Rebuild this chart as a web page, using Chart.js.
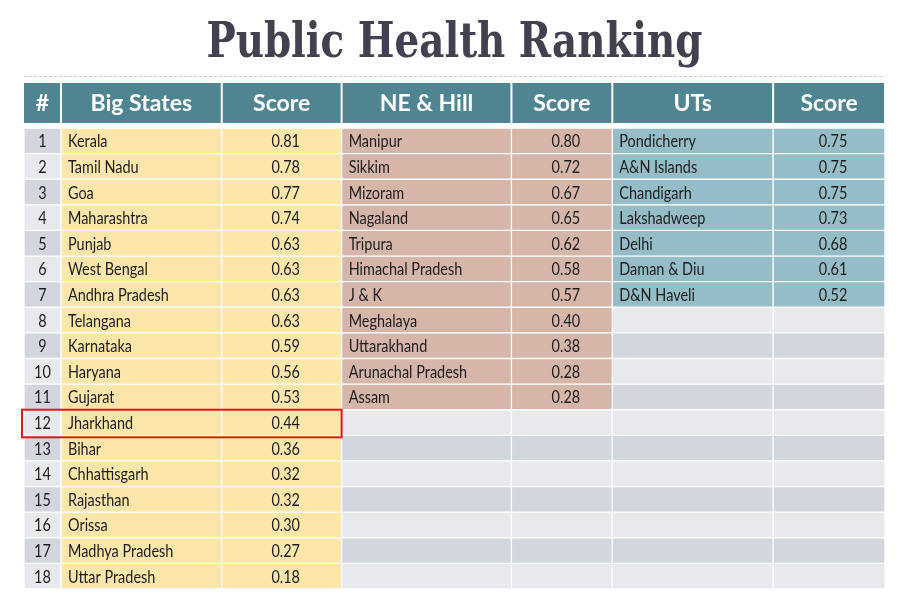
<!DOCTYPE html>
<html lang="en">
<head>
    <meta charset="UTF-8">
    <title>Public Health Ranking</title>
    <script src="https://cdn.jsdelivr.net/npm/chart.js"></script>
    <style>
        body {
            margin: 0;
            background: #ffffff;
        }
        #wrap {
            width: 900px;
            height: 600px;
        }
    </style>
</head>
<body>
<div id="wrap">
    <canvas id="rankChart" width="900" height="600"></canvas>
</div>
<script>
    // Datos de la tabla
    const titleText = 'Public Health Ranking';
    const headers = ['#', 'Big States', 'Score', 'NE & Hill', 'Score', 'UTs', 'Score'];
    const ranks = ['1', '2', '3', '4', '5', '6', '7', '8', '9', '10', '11', '12', '13', '14', '15', '16', '17', '18'];
    const bigStates = ['Kerala', 'Tamil Nadu', 'Goa', 'Maharashtra', 'Punjab', 'West Bengal', 'Andhra Pradesh',
        'Telangana', 'Karnataka', 'Haryana', 'Gujarat', 'Jharkhand', 'Bihar', 'Chhattisgarh', 'Rajasthan',
        'Orissa', 'Madhya Pradesh', 'Uttar Pradesh'];
    const bigScores = [0.81, 0.78, 0.77, 0.74, 0.63, 0.63, 0.63, 0.63, 0.59, 0.56, 0.53, 0.44, 0.36, 0.32, 0.32, 0.30, 0.27, 0.18];
    const neHill = ['Manipur', 'Sikkim', 'Mizoram', 'Nagaland', 'Tripura', 'Himachal Pradesh', 'J & K',
        'Meghalaya', 'Uttarakhand', 'Arunachal Pradesh', 'Assam'];
    const neScores = [0.80, 0.72, 0.67, 0.65, 0.62, 0.58, 0.57, 0.40, 0.38, 0.28, 0.28];
    const uts = ['Pondicherry', 'A&N Islands', 'Chandigarh', 'Lakshadweep', 'Delhi', 'Daman & Diu', 'D&N Haveli'];
    const utScores = [0.75, 0.75, 0.75, 0.73, 0.68, 0.61, 0.52];
    const highlighted = 'Jharkhand';

    // Layout (anchos de columna en px)
    const colWidths = [37, 161, 120, 170, 101, 161, 112];
    const colEdges = [0];
    colWidths.forEach(w => colEdges.push(colEdges[colEdges.length - 1] + w));

    const colors = {
        header: '#4f8591',
        big: '#fce6aa',
        ne: '#d5b6a9',
        ut: '#94bdc7',
        grayDark: '#d2d6dd',
        grayLight: '#e7e9ec',
        text: '#1c1c1c'
    };

    const gray = i => (i % 2 === 0 ? colors.grayDark : colors.grayLight);

    // columnas: texto de cada celda y su color
    const columns = [
        { texts: ranks, align: 'center', fill: i => gray(i) },
        { texts: bigStates, align: 'left', fill: i => (bigStates[i] ? colors.big : gray(i)) },
        { texts: bigScores.map(v => v.toFixed(2)), align: 'score', fill: i => (bigStates[i] ? colors.big : gray(i)) },
        { texts: neHill, align: 'left', fill: i => (neHill[i] ? colors.ne : gray(i)) },
        { texts: neScores.map(v => v.toFixed(2)), align: 'score', fill: i => (neHill[i] ? colors.ne : gray(i)) },
        { texts: uts, align: 'left', fill: i => (uts[i] ? colors.ut : gray(i)) },
        { texts: utScores.map(v => v.toFixed(2)), align: 'score', fill: i => (uts[i] ? colors.ut : gray(i)) }
    ];

    const datasets = columns.map((col, c) => ({
        label: headers[c],
        data: ranks.map(() => [colEdges[c], colEdges[c + 1]]),
        backgroundColor: ranks.map((r, i) => col.fill(i)),
        borderColor: '#ffffff',
        borderWidth: 1,
        borderSkipped: false,
        grouped: false,
        barPercentage: 1,
        categoryPercentage: 1
    }));

    // texto estrechado (la fuente original es mas angosta)
    function narrowText(ctx, text, x, y, sx) {
        ctx.save();
        ctx.translate(x, y);
        ctx.scale(sx, 1);
        ctx.fillText(text, 0, 0);
        ctx.restore();
    }

    // titulo, linea punteada y cabecera
    const headerPlugin = {
        id: 'headerPlugin',
        beforeDraw(chart) {
            const ctx = chart.ctx;
            const x = chart.scales.x;
            const area = chart.chartArea;
            ctx.save();
            ctx.fillStyle = '#ffffff';
            ctx.fillRect(0, 0, chart.width, chart.height);

            // titulo
            ctx.font = 'bold 48px "DejaVu Serif"';
            ctx.fillStyle = '#414150';
            ctx.textAlign = 'center';
            ctx.textBaseline = 'alphabetic';
            const w = ctx.measureText(titleText).width;
            narrowText(ctx, titleText, (area.left + area.right) / 2, 57, 496 / w);

            // linea punteada
            ctx.strokeStyle = '#c9cdd2';
            ctx.lineWidth = 1;
            ctx.setLineDash([3, 2]);
            ctx.beginPath();
            ctx.moveTo(area.left, 76.5);
            ctx.lineTo(area.right, 76.5);
            ctx.stroke();
            ctx.setLineDash([]);

            // cabecera
            ctx.font = 'bold 23px Lato';
            ctx.textBaseline = 'middle';
            headers.forEach((h, c) => {
                const x0 = x.getPixelForValue(colEdges[c]);
                const x1 = x.getPixelForValue(colEdges[c + 1]);
                ctx.fillStyle = colors.header;
                ctx.fillRect(x0 + (c === 0 ? 0 : 1), 83, x1 - x0 - (c === 0 ? 1 : 2), 40);
                ctx.fillStyle = '#ffffff';
                ctx.fillText(h, (x0 + x1) / 2, 104);
            });
            ctx.restore();
        }
    };

    // textos de las celdas y recuadro rojo
    const cellTextPlugin = {
        id: 'cellText',
        afterDatasetsDraw(chart) {
            const ctx = chart.ctx;
            const sx = 0.85;
            ctx.save();
            ctx.font = '17px Lato';
            ctx.fillStyle = colors.text;
            ctx.textBaseline = 'middle';
            columns.forEach((col, c) => {
                const meta = chart.getDatasetMeta(c);
                meta.data.forEach((el, i) => {
                    const t = col.texts[i];
                    if (!t) return;
                    const p = el.getProps(['x', 'base', 'y'], true);
                    const left = Math.min(p.x, p.base);
                    const right = Math.max(p.x, p.base);
                    const ty = p.y + 1;
                    if (col.align === 'left') {
                        ctx.textAlign = 'left';
                        narrowText(ctx, t, left + 7, ty, sx);
                    } else if (col.align === 'score') {
                        ctx.textAlign = 'center';
                        narrowText(ctx, t, (left + right) / 2 + 4, ty, sx);
                    } else {
                        ctx.textAlign = 'center';
                        narrowText(ctx, t, (left + right) / 2, ty, sx);
                    }
                });
            });

            // recuadro del estado destacado
            const idx = bigStates.indexOf(highlighted);
            if (idx >= 0) {
                const y = chart.scales.y;
                const x = chart.scales.x;
                const half = Math.abs(y.getPixelForValue(1) - y.getPixelForValue(0)) / 2;
                const yc = y.getPixelForValue(idx);
                const x0 = x.getPixelForValue(colEdges[0]) - 2;
                const x1 = x.getPixelForValue(colEdges[3]);
                ctx.strokeStyle = '#e3171b';
                ctx.lineWidth = 2;
                ctx.strokeRect(x0, yc - half, x1 - x0, half * 2 + 2);
            }
            ctx.restore();
        }
    };

    const ctx = document.getElementById('rankChart').getContext('2d');
    new Chart(ctx, {
        type: 'bar',
        data: {
            labels: ranks,
            datasets: datasets
        },
        options: {
            indexAxis: 'y',
            responsive: false,
            animation: false,
            layout: {
                padding: { left: 24, right: 15, top: 128, bottom: 11 }
            },
            scales: {
                x: { type: 'linear', min: 0, max: colEdges[colEdges.length - 1], display: false },
                y: { type: 'category', display: false }
            },
            plugins: {
                legend: { display: false },
                tooltip: { enabled: false }
            }
        },
        plugins: [headerPlugin, cellTextPlugin]
    });
</script>
</body>
</html>
